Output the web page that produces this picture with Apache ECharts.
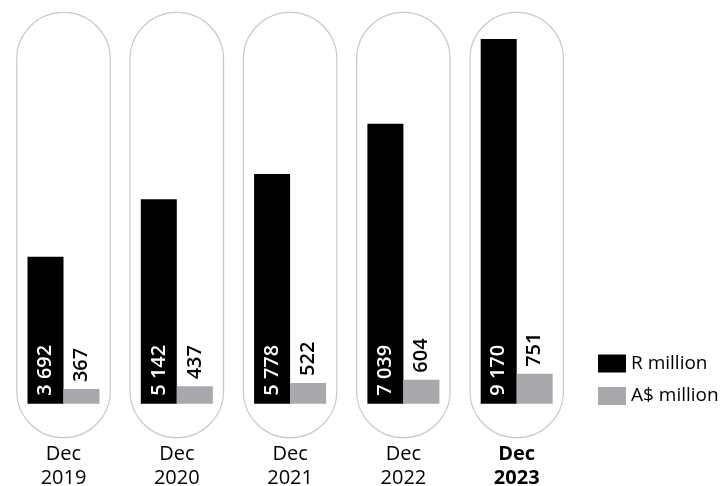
<!DOCTYPE html>
<html><head><meta charset="utf-8">
<script src="https://cdn.jsdelivr.net/npm/echarts@6/dist/echarts.min.js"></script>
<style>html,body{margin:0;padding:0;background:#fff}#c{width:722px;height:486px}</style>
</head><body><div id="c"></div>
<script>
const categories = ['Dec\n2019','Dec\n2020','Dec\n2021','Dec\n2022','Dec\n2023'];
const randMillion = [3692, 5142, 5778, 7039, 9170];
const audMillion = [367, 437, 522, 604, 751];
const seriesNames = ['R million', 'A$ million'];

const FONT = 'Open Sans';
function fmt(v){ return String(v).replace(/\B(?=(\d{3})+(?!\d))/g, ' '); }

const chart = echarts.init(document.getElementById('c'));
chart.setOption({
  animation: false,
  textStyle: { fontFamily: FONT },
  grid: { left: 6.85, right: 148.65, top: 6, bottom: 82.3, containLabel: false, outerBoundsMode: 'none' },
  legend: {
    data: seriesNames,
    orient: 'vertical',
    left: 598, top: 354, padding: 0,
    itemWidth: 28, itemHeight: 18, itemGap: 13.5,
    icon: 'rect',
    textStyle: { fontFamily: FONT, fontSize: 19, color: '#000', lineHeight: 18 }
  },
  xAxis: {
    type: 'category', data: categories,
    axisLine: { show: false }, axisTick: { show: false },
    axisLabel: {
      margin: 39, color: '#000', fontFamily: FONT, fontSize: 20, lineHeight: 23.5,
      formatter: function(v, i){ return i === categories.length - 1 ? '{b|' + v.replace('\n', '}\n{b|') + '}' : v; },
      rich: { b: { fontWeight: 'bold', fontSize: 20, lineHeight: 23.5, color: '#000', fontFamily: FONT } }
    }
  },
  yAxis: { type: 'value', min: 0, max: 10000, show: false, splitLine: { show: false } },
  series: [
    {
      type: 'custom', silent: true, clip: false, z: 0,
      data: categories.map((c, i) => [i, 0]),
      encode: { x: 0, y: 1 },
      renderItem: function(params, api){
        const cx = api.coord([api.value(0), 0])[0];
        const base = params.coordSys.y + params.coordSys.height;
        const w = 93.5, top = base - 391.4, bot = base + 34;
        return { type: 'rect', shape: { x: cx - w/2, y: top, width: w, height: bot - top, r: w/2 },
          style: { fill: '#fff', stroke: '#c9c9c9', lineWidth: 1.2 } };
      }
    },
    {
      name: seriesNames[0], type: 'bar', data: randMillion, barWidth: 36, barGap: 0, z: 2,
      itemStyle: { color: '#000' },
      label: { show: true, position: 'insideBottom', rotate: 90, align: 'left', verticalAlign: 'middle', distance: 8,
        color: '#fff', fontSize: 20, fontWeight: 600, fontFamily: FONT, formatter: p => fmt(p.value) }
    },
    {
      name: seriesNames[1], type: 'bar', data: audMillion, barWidth: 36, barGap: 0, z: 2,
      itemStyle: { color: '#a7a9ac' },
      label: { show: true, position: 'top', rotate: 90, align: 'left', verticalAlign: 'middle', distance: 7,
        color: '#000', fontSize: 20, fontWeight: 600, fontFamily: FONT, formatter: p => fmt(p.value) }
    }
  ]
});
</script></body></html>
